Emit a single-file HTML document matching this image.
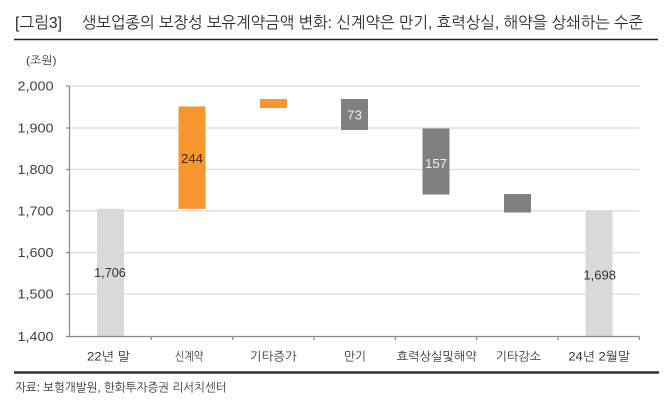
<!DOCTYPE html>
<html><head><meta charset="utf-8"><style>
html,body{margin:0;padding:0;background:#fff;}
svg{display:block;}
text{font-family:"Liberation Sans","NanumGothic","Noto Sans CJK KR",sans-serif;}
</style></head><body>
<svg width="670" height="405" viewBox="0 0 670 405" xmlns="http://www.w3.org/2000/svg">
<rect width="670" height="405" fill="#fff"/>
<!-- title -->
<text x="15" y="28" font-size="16" fill="#2a2a2a" textLength="47" lengthAdjust="spacingAndGlyphs">[그림3]</text>
<text x="81.7" y="28" font-size="16" fill="#2a2a2a" textLength="561.5" lengthAdjust="spacingAndGlyphs">생보업종의 보장성 보유계약금액 변화: 신계약은 만기, 효력상실, 해약을 상쇄하는 수준</text>
<line x1="14" y1="39.5" x2="658" y2="39.5" stroke="#222" stroke-width="1.6"/>
<text x="26" y="64" font-size="11" fill="#404040" textLength="30.5" lengthAdjust="spacingAndGlyphs">(조원)</text>

<!-- gridlines -->
<g stroke="#d9d9d9" stroke-width="1.2">
<line x1="70" y1="86" x2="639.5" y2="86"/>
<line x1="70" y1="128" x2="639.5" y2="128"/>
<line x1="70" y1="169.5" x2="639.5" y2="169.5"/>
<line x1="70" y1="210.8" x2="639.5" y2="210.8"/>
<line x1="70" y1="252.7" x2="639.5" y2="252.7"/>
<line x1="70" y1="294.2" x2="639.5" y2="294.2"/>
</g>

<!-- bars -->
<rect x="97" y="208.8" width="27" height="127.5" fill="#d9d9d9"/>
<rect x="178.5" y="106.5" width="27" height="102.3" fill="#f7962f"/>
<rect x="260" y="99" width="27" height="9" fill="#f7962f"/>
<rect x="341" y="99" width="27" height="31" fill="#808080"/>
<rect x="422.5" y="128.5" width="27" height="66" fill="#808080"/>
<rect x="504" y="194" width="27" height="18.5" fill="#808080"/>
<rect x="585.5" y="210.5" width="27" height="125.8" fill="#d9d9d9"/>

<!-- axes -->
<g stroke="#888" stroke-width="1.2">
<line x1="69.5" y1="86" x2="69.5" y2="336.5"/>
<line x1="66" y1="336.5" x2="639.5" y2="336.5"/>
<line x1="66" y1="86" x2="69.5" y2="86"/>
<line x1="66" y1="128" x2="69.5" y2="128"/>
<line x1="66" y1="169.5" x2="69.5" y2="169.5"/>
<line x1="66" y1="210.8" x2="69.5" y2="210.8"/>
<line x1="66" y1="252.7" x2="69.5" y2="252.7"/>
<line x1="66" y1="294.2" x2="69.5" y2="294.2"/>
<line x1="151.3" y1="336.5" x2="151.3" y2="340"/>
<line x1="232.7" y1="336.5" x2="232.7" y2="340"/>
<line x1="314" y1="336.5" x2="314" y2="340"/>
<line x1="395.3" y1="336.5" x2="395.3" y2="340"/>
<line x1="476.7" y1="336.5" x2="476.7" y2="340"/>
<line x1="558" y1="336.5" x2="558" y2="340"/>
<line x1="639.3" y1="336.5" x2="639.3" y2="340"/>
</g>

<!-- y tick labels -->
<g font-size="13" fill="#404040" text-anchor="end">
<text x="53.5" y="90.5" textLength="36" lengthAdjust="spacingAndGlyphs">2,000</text>
<text x="53.5" y="132.5" textLength="36" lengthAdjust="spacingAndGlyphs">1,900</text>
<text x="53.5" y="174" textLength="36" lengthAdjust="spacingAndGlyphs">1,800</text>
<text x="53.5" y="215.3" textLength="36" lengthAdjust="spacingAndGlyphs">1,700</text>
<text x="53.5" y="257.2" textLength="36" lengthAdjust="spacingAndGlyphs">1,600</text>
<text x="53.5" y="298.7" textLength="36" lengthAdjust="spacingAndGlyphs">1,500</text>
<text x="53.5" y="341" textLength="36" lengthAdjust="spacingAndGlyphs">1,400</text>
</g>

<!-- category labels -->
<g font-size="12" fill="#333" text-anchor="middle">
<text x="108.5" y="360.5" textLength="43" lengthAdjust="spacingAndGlyphs">22년  말</text>
<text x="189" y="360.5" textLength="28.3" lengthAdjust="spacingAndGlyphs">신계약</text>
<text x="273.3" y="360.5" textLength="46.7" lengthAdjust="spacingAndGlyphs">기타증가</text>
<text x="355" y="360.5" textLength="22" lengthAdjust="spacingAndGlyphs">만기</text>
<text x="436.7" y="360.5" textLength="80" lengthAdjust="spacingAndGlyphs">효력상실및해약</text>
<text x="518.3" y="360.5" textLength="45.3" lengthAdjust="spacingAndGlyphs">기타감소</text>
<text x="599.2" y="360.5" textLength="61.7" lengthAdjust="spacingAndGlyphs">24년  2월말</text>
</g>

<!-- data labels -->
<g font-size="13" text-anchor="middle">
<text x="110" y="277" fill="#333" textLength="31.7" lengthAdjust="spacingAndGlyphs">1,706</text>
<text x="192" y="163" fill="#4a2a0a" textLength="22" lengthAdjust="spacingAndGlyphs">244</text>
<text x="354.5" y="119.5" fill="#f0f0f0" textLength="15" lengthAdjust="spacingAndGlyphs">73</text>
<text x="436" y="168" fill="#f0f0f0" textLength="22" lengthAdjust="spacingAndGlyphs">157</text>
<text x="599.7" y="279.5" fill="#333" textLength="32.7" lengthAdjust="spacingAndGlyphs">1,698</text>
</g>

<!-- footer -->
<line x1="14" y1="372.5" x2="659" y2="372.5" stroke="#333" stroke-width="2.4"/>
<text x="15" y="391.5" font-size="12" fill="#333" textLength="211.7" lengthAdjust="spacingAndGlyphs">자료: 보험개발원, 한화투자증권 리서치센터</text>
</svg>
</body></html>
